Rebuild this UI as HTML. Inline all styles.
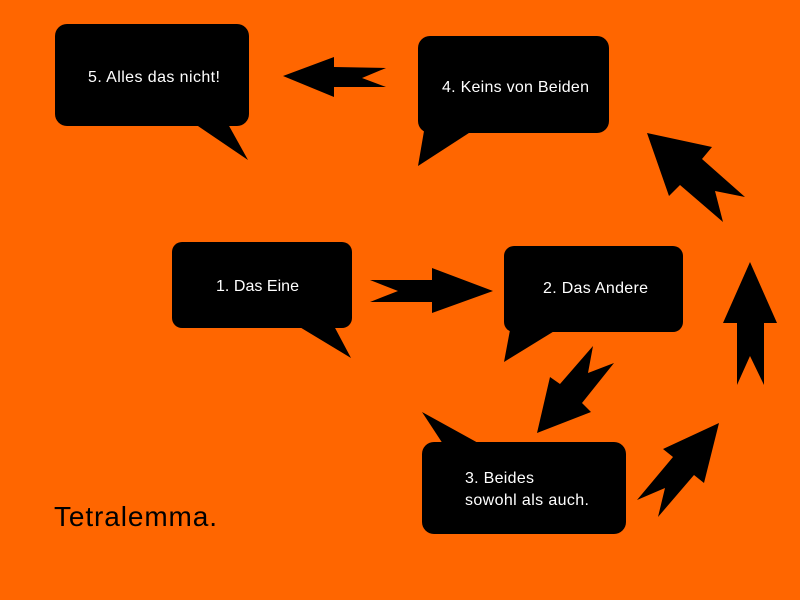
<!DOCTYPE html>
<html><head><meta charset="utf-8"><style>
html,body{margin:0;padding:0;width:800px;height:600px;overflow:hidden;background:#ff6600}
svg text{font-family:"Liberation Sans",sans-serif;fill:#fff;font-size:16px}
</style></head><body>
<svg width="800" height="600" viewBox="0 0 800 600" xmlns="http://www.w3.org/2000/svg">
<rect width="800" height="600" fill="#ff6600"/>
<g fill="#000">
<rect x="55" y="24" width="194" height="102" rx="12"/>
<polygon points="195,124 248,160 228,124"/>
<rect x="418" y="36" width="191" height="97" rx="12"/>
<polygon points="424,131 418,166 472,131"/>
<rect x="172" y="242" width="180" height="86" rx="10"/>
<polygon points="298,326 351,358 334,326"/>
<rect x="504" y="246" width="179" height="86" rx="10"/>
<polygon points="510,330 504,362 556,330"/>
<rect x="422" y="442" width="204" height="92" rx="12"/>
<polygon points="422,412 443,444 480,444"/>
<polygon points="283,76 334,57 334,67 386,68 362,78 386,87 334,87 334,97"/>
<polygon points="493,291 432,268 432,280 370,280 398,291 370,302 432,302 432,313"/>
<polygon points="593,346 588,373 614,363 582,403 591,412 537,433 550,377 560,384"/>
<polygon points="719,423 704,483 694,475 658,517 665,488 637,500 673,457 663,449"/>
<polygon points="750,262 777,323 764,323 764,385 750,356 737,385 737,323 723,323"/>
<polygon points="647,133 712,147 702,159 745,197 715,191 723,222 680,185 669,196"/>
</g>
<text x="88" y="82" textLength="132">5. Alles das nicht!</text>
<text x="442" y="92" textLength="147">4. Keins von Beiden</text>
<text x="216" y="291" textLength="83">1. Das Eine</text>
<text x="543" y="293" textLength="105">2. Das Andere</text>
<text x="465" y="483" textLength="69">3. Beides</text>
<text x="465" y="505" textLength="124">sowohl als auch.</text>
<text x="54" y="526" style="fill:#000;font-size:28px" textLength="163">Tetralemma.</text>
</svg>
</body></html>
